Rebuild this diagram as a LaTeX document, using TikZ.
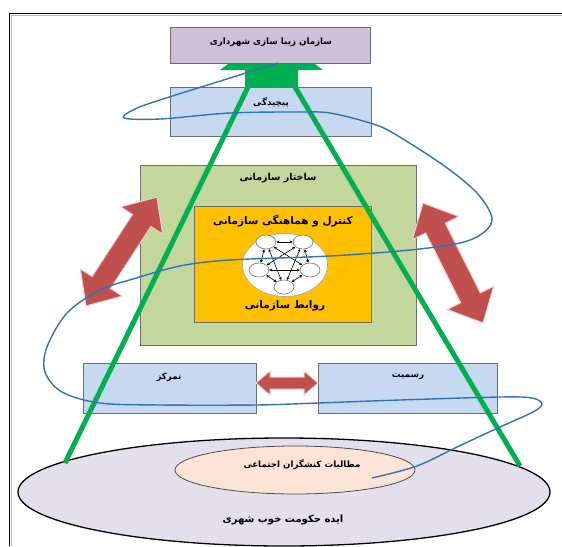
\documentclass[tikz,border=0pt]{standalone}
\usepackage{fontspec}
\newfontfamily\fa[Script=Arabic]{DejaVu Sans}
\TeXXeTstate=1
\usetikzlibrary{shapes.geometric,arrows.meta}
\definecolor{topfill}{HTML}{CCC0DA}
\definecolor{bluefill}{HTML}{C6D9F1}
\definecolor{greenfill}{HTML}{C3D69B}
\definecolor{orangefill}{HTML}{FFC000}
\definecolor{bigell}{HTML}{E4DFEC}
\definecolor{innerell}{HTML}{FBE4D5}
\definecolor{redarrow}{HTML}{C0504D}
\definecolor{greenline}{HTML}{00B050}
\definecolor{blueline}{HTML}{2E75B6}
\definecolor{boxborder}{HTML}{6F6F6F}
\begin{document}
\begin{tikzpicture}[x=1pt,y=-1pt,
  box/.style={draw=boxborder, line width=0.9pt, inner sep=0pt},
  lbl/.style={inner sep=0pt, font=\fa\bfseries\fontsize{8.7}{10}\selectfont},
  biglbl/.style={inner sep=0pt, font=\fa\bfseries\fontsize{10.5}{12}\selectfont},
  smallell/.style={ellipse, draw=gray, fill=white, line width=0.7pt, minimum width=20pt, minimum height=14pt, inner sep=0pt},
  netarrow/.style={{Stealth[length=3pt,width=3pt]}-{Stealth[length=3pt,width=3pt]}, line width=0.6pt, black},
  redarr/.style={fill=redarrow, draw=redarrow!25!white, line width=1pt},
  gline/.style={greenline, line width=5pt},
  bline/.style={blueline, line width=1.4pt}
]
\useasboundingbox (0,0) rectangle (562,546);
\fill[white] (0,0) rectangle (562,546);

% frame
\draw[black, line width=1.3pt] (9.5,546) -- (9.5,13.5) -- (562,13.5);
\draw[gray!55, line width=1.3pt] (11.5,546) -- (11.5,15.5) -- (562,15.5);

% bottom ellipses
\node[ellipse, draw=black, line width=1.3pt, fill=bigell, minimum width=532pt, minimum height=108pt, inner sep=0pt] (bigE) at (284,492) {};
\node[ellipse, draw=black!70, line width=0.8pt, fill=innerell, minimum width=240pt, minimum height=48pt, inner sep=0pt] (innerE) at (295,470) {};

% green arrow head (tip hidden under top box)
\fill[greenline] (245,88) -- (245,70) -- (220,70) -- (271.5,32) -- (323,70) -- (298,70) -- (298,88) -- cycle;

% boxes
\node[box, fill=topfill, minimum width=200pt, minimum height=36pt] (top) at (270,45) {};
\node[box, fill=bluefill, minimum width=201pt, minimum height=49pt] (pich) at (270.5,111.5) {};
\node[box, fill=greenfill, minimum width=276pt, minimum height=180pt] (sakht) at (278,255) {};
\node[box, fill=orangefill, minimum width=177pt, minimum height=116pt] (orng) at (282.5,264) {};
\node[ellipse, draw=gray!70, fill=white, line width=0.6pt, minimum width=85pt, minimum height=63pt, inner sep=0pt] (whiteE) at (285,265) {};
\node[box, fill=bluefill, minimum width=173pt, minimum height=50pt] (tam) at (169.5,388) {};
\node[box, fill=bluefill, minimum width=179pt, minimum height=50pt] (ras) at (407.5,388) {};

% network
\node[smallell] (n1) at (266,242) {};
\node[smallell] (n2) at (303,242) {};
\node[smallell] (n3) at (310,270) {};
\node[smallell] (n4) at (284,287) {};
\node[smallell] (n5) at (259,270) {};
\draw[netarrow] (n1) -- (n2);
\draw[netarrow] (n2) -- (n3);
\draw[netarrow] (n3) -- (n4);
\draw[netarrow] (n4) -- (n5);
\draw[netarrow] (n5) -- (n1);
\draw[netarrow] (n1) -- (n3);
\draw[netarrow] (n1) -- (n4);
\draw[netarrow] (n2) -- (n4);
\draw[netarrow] (n2) -- (n5);
\draw[netarrow] (n3) -- (n5);

% red double arrows
\begin{scope}[shift={(121.5,251.5)}, rotate=56.9]
  \draw[redarr] (-65,0) -- (-37,25) -- (-37,11) -- (37,11) -- (37,25) -- (65,0) -- (37,-25) -- (37,-11) -- (-37,-11) -- (-37,-25) -- cycle;
\end{scope}
\begin{scope}[shift={(453,263)}, rotate=116.6]
  \draw[redarr] (-67,0) -- (-39,26) -- (-39,11) -- (39,11) -- (39,26) -- (67,0) -- (39,-26) -- (39,-11) -- (-39,-11) -- (-39,-26) -- cycle;
\end{scope}
\begin{scope}[shift={(287,383)}]
  \draw[redarr] (-31,0) -- (-17,12) -- (-17,6) -- (17,6) -- (17,12) -- (31,0) -- (17,-12) -- (17,-6) -- (-17,-6) -- (-17,-12) -- cycle;
\end{scope}

% green lines
\coordinate (gl1) at (248,87);
\coordinate (gl2) at (295,87);
\coordinate (gb1) at (65,463);
\coordinate (gb2) at (520,466);
\draw[gline] (gl1) -- (gb1);
\draw[gline] (gl2) -- (gb2);

% blue spiral
\coordinate (bstart) at (372,478);
\coordinate (bend) at (278,63);
\draw[bline] plot[smooth, tension=0.55] coordinates {
 (bstart) (417,466) (457,447) (500,427) (533,412) (542,404) (532,398) (500,397) (400,400) (318,403)
 (256,405) (160,405) (100,403) (62,392) (45,372) (47,347) (67,313) (100,290) (133,279) (180,266) (230,260)
 (330,256) (410,250) (460,243) (483,233) (492,218) (477,193) (443,165) (393,133) (370,123) (330,113)
 (300,112) (230,113) (160,119) (124,118) (135,109) (160,100) (230,78) (bend)};

% texts
\node[lbl] (tTop) at (271,42) {\beginR سازمان زیبا سازی شهرداری\endR};
\node[lbl] (tPich) at (271,103) {\beginR پیچیدگی\endR};
\node[lbl, font=\fa\bfseries\fontsize{9.5}{11}\selectfont] (tSakht) at (278,178) {\beginR ساختار سازمانی\endR};
\node[biglbl] (tCtrl) at (283,221) {\beginR کنترل و هماهنگی سازمانی\endR};
\node[biglbl] (tRav) at (285,306) {\beginR روابط سازمانی\endR};
\node[lbl] (tTam) at (169,377) {\beginR تمرکز\endR};
\node[lbl] (tRas) at (408,377) {\beginR رسمیت\endR};
\node[lbl] (tMot) at (302,465) {\beginR مطالبات کنشگران اجتماعی\endR};
\node[biglbl, font=\fa\bfseries\fontsize{10}{12}\selectfont] (tIdeh) at (283,520) {\beginR ایده حکومت خوب شهری\endR};
\end{tikzpicture}
\end{document}
